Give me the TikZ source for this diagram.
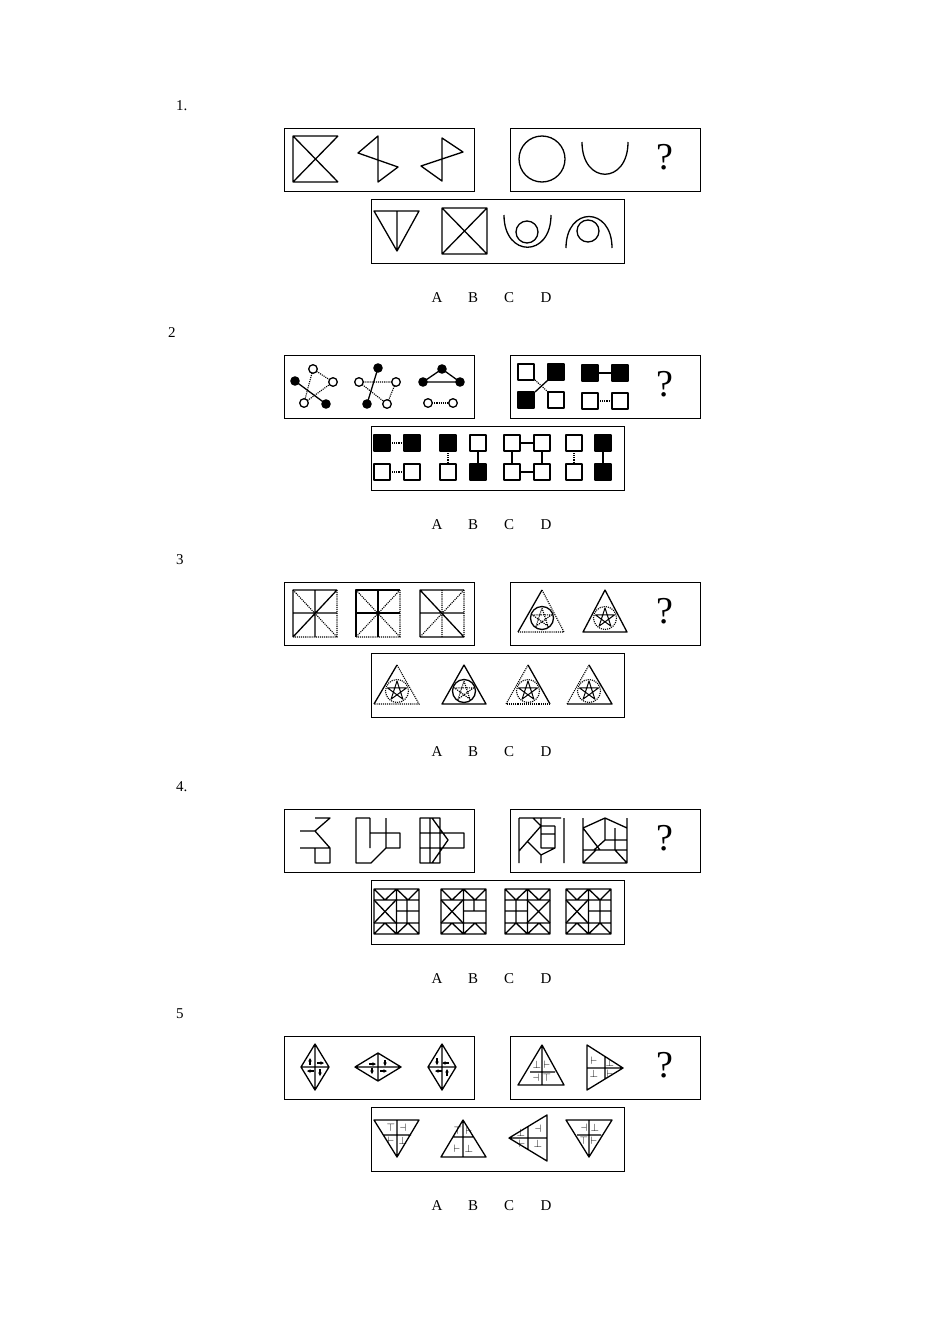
\documentclass[tikz,border=0pt]{standalone}
\usepackage{fontspec}
\setmainfont{Liberation Serif}
\usetikzlibrary{calc,arrows.meta}
\tikzset{fig/.style={line width=1.3pt,line join=round},
 frame/.style={line width=1pt},
 dot/.style={line width=1.1pt,densely dotted},
 lbl/.style={font=\fontsize{15}{18}\selectfont,inner sep=0pt},
 qm/.style={font=\fontsize{38}{40}\selectfont,inner sep=0pt},
 fn/.style={fig,fill=black},
 on/.style={fig,fill=white}}
\newcommand{\myframes}[1]{%
 \draw[frame] (284,128+#1) rectangle (474,191+#1);
 \draw[frame] (510,128+#1) rectangle (700,191+#1);
 \draw[frame] (371,199+#1) rectangle (624,263+#1);
 \node[lbl] (a#1) at (437,298+#1) {A};
 \node[lbl] (b#1) at (473,298+#1) {B};
 \node[lbl] (c#1) at (509,298+#1) {C};
 \node[lbl] (d#1) at (546,298+#1) {D};
 \node[qm] (q#1) at (665,157+#1) {?};}
\newcommand{\mystar}[4]{\draw[#4] ($(#1,#2)+(270:#3)$)--($(#1,#2)+(54:#3)$)--($(#1,#2)+(198:#3)$)--($(#1,#2)+(342:#3)$)--($(#1,#2)+(126:#3)$)--cycle;}
\begin{document}
\begin{tikzpicture}[x=1pt,y=-1pt]
\useasboundingbox[fill=white] (0,0) rectangle (950,1344);
\node[lbl,anchor=west] (p1) at (176,106) {1.};
\node[lbl,anchor=west] (p2) at (168,333) {2};
\node[lbl,anchor=west] (p3) at (176,560) {3};
\node[lbl,anchor=west] (p4) at (176,787) {4.};
\node[lbl,anchor=west] (p5) at (176,1014) {5};
\myframes{0}\myframes{227}\myframes{454}\myframes{681}\myframes{908}
% ---------- 1
\draw[fig] (338,136)--(293,136)--(293,182)--(338,182) (293,136)--(338,182) (338,136)--(293,182);
\draw[fig] (378,136)--(358,153)--(398,167)--(378,182)--cycle;
\draw[fig] (442,138)--(463,152)--(421,166)--(442,181)--cycle;
\draw[fig] (542,159) circle (23);
\draw[fig] (582,142) .. controls (582,185) and (628,185) .. (628,142);
\draw[fig] (374,211)--(419,211)--(397,251)--cycle (397,211)--(397,251);
\draw[fig] (442,208) rectangle (487,254) (442,208)--(487,254) (487,208)--(442,254);
\draw[fig] (504,215) .. controls (504,258) and (551,258) .. (551,215);
\draw[fig] (527,232) circle (11);
\draw[fig] (566,248) .. controls (566,206) and (612,206) .. (612,248);
\draw[fig] (588,231) circle (11);
% ---------- 2
\draw[fig] (295,381)--(326,404) (378,368)--(367,404) (442,369)--(423,382)--(460,382)--cycle;
\draw[dot] (313,369)--(333,382) (313,369)--(304,403) (304,403)--(333,382);
\draw[dot] (359,382)--(396,382) (396,382)--(387,404) (359,382)--(387,404);
\draw[dot] (428,403)--(453,403);
\foreach \p in {(295,381),(326,404),(378,368),(367,404),(442,369),(423,382),(460,382)} \fill \p circle (4.8);
\foreach \p in {(313,369),(333,382),(304,403),(359,382),(396,382),(387,404),(428,403),(453,403)} \draw[on] \p circle (4.3);
\draw[fig] (548,380)--(535,392);
\draw[dot] (535,380)--(548,392);
\draw[on] (518,364) rectangle (534,380); \draw[fn] (548,364) rectangle (564,380);
\draw[fn] (518,392) rectangle (534,408); \draw[on] (548,392) rectangle (564,408);
\draw[fig] (598,373)--(612,373); \draw[dot] (598,401)--(612,401);
\draw[fn] (582,365) rectangle (598,381); \draw[fn] (612,365) rectangle (628,381);
\draw[on] (582,393) rectangle (598,409); \draw[on] (612,393) rectangle (628,409);
% options
\draw[dot] (390,443)--(404,443) (390,472)--(404,472);
\draw[fn] (374,435) rectangle (390,451); \draw[fn] (404,435) rectangle (420,451);
\draw[on] (374,464) rectangle (390,480); \draw[on] (404,464) rectangle (420,480);
\draw[dot] (448,451)--(448,464); \draw[fig] (478,451)--(478,464);
\draw[fn] (440,435) rectangle (456,451); \draw[on] (470,435) rectangle (486,451);
\draw[on] (440,464) rectangle (456,480); \draw[fn] (470,464) rectangle (486,480);
\draw[fig] (520,443)--(534,443) (520,472)--(534,472) (512,451)--(512,464) (542,451)--(542,464);
\draw[on] (504,435) rectangle (520,451); \draw[on] (534,435) rectangle (550,451);
\draw[on] (504,464) rectangle (520,480); \draw[on] (534,464) rectangle (550,480);
\draw[dot] (574,451)--(574,464); \draw[fig] (603,451)--(603,464);
\draw[on] (566,435) rectangle (582,451); \draw[fn] (595,435) rectangle (611,451);
\draw[on] (566,464) rectangle (582,480); \draw[fn] (595,464) rectangle (611,480);
% ---------- 3
\draw[fig] (293,637)--(293,590)--(337,590) (315,590)--(315,637) (293,613)--(337,613) (293,637)--(337,590);
\draw[dot] (337,590)--(337,637)--(293,637) (293,590)--(337,637);
\draw[fig] (356,637)--(356,590)--(400,590) (378,590)--(378,637) (356,613)--(400,613);
\draw[dot] (400,590)--(400,637)--(356,637) (356,590)--(400,637) (400,590)--(356,637);
\draw[fig] (420,637)--(420,590)--(464,590) (420,613)--(464,613) (420,590)--(464,637) (420,637)--(464,637);
\draw[dot] (464,590)--(464,637) (442,590)--(442,637) (464,590)--(420,637);
% right box
\draw[fig] (518,632)--(542,590); \draw[dot] (542,590)--(564,632)--(518,632);
\draw[fig] (542,618) circle (11.5); \mystar{542}{618}{10}{dot}
\draw[fig] (583,632)--(605,590)--(627,632)--cycle;
\draw[dot] (605,618) circle (11.5); \mystar{605}{618}{10}{fig,line width=1pt}
% options
\draw[fig] (374,704)--(397,665); \draw[dot] (397,665)--(419,704)--(374,704);
\draw[dot] (397,691) circle (11.5); \mystar{397}{691}{10}{fig,line width=1pt}
\draw[fig] (442,704)--(464,665)--(486,704)--cycle;
\draw[fig] (464,691) circle (11.5); \mystar{464}{691}{10}{dot}
\draw[dot] (506,704)--(528,665); \draw[fig] (528,665)--(550,704); \draw[dot] (550,704)--(506,704);
\draw[dot] (528,691) circle (11.5); \mystar{528}{691}{10}{fig,line width=1pt}
\draw[dot] (567,704)--(589,665); \draw[fig] (589,665)--(612,704)--(567,704);
\draw[dot] (589,691) circle (11.5); \mystar{589}{691}{10}{fig,line width=1pt}
% ---------- 4
\draw[fig] (315,818)--(330,818)--(315,831)--(300,831) (315,831)--(330,848)--(300,848) (315,848) rectangle (330,863);
\draw[fig] (370,818)--(356,818)--(356,863)--(371,863)--(386,848)--(400,848)--(400,833)--(370,833) (370,818)--(370,848) (386,818)--(386,848);
\draw[fig] (420,818) rectangle (440,863) (430,818)--(430,863) (420,833)--(440,833) (420,848)--(440,848) (432,818)--(448,840)--(432,863) (440,833) rectangle (464,848);
\draw[fig] (519,818)--(519,863) (564,818)--(564,863) (519,818)--(561,818) (533,818)--(541,826)--(555,826) (541,818)--(541,848)--(555,848)--(555,826) (541,834)--(555,834) (519,851)--(541,826) (527,841)--(541,855)--(555,848) (541,855)--(541,863);
\draw[fig] (583,818)--(583,863)--(627,863) (627,818)--(627,863) (583,850)--(627,850) (583,828)--(605,818)--(627,828) (583,828)--(600,850) (594,850)--(605,840)--(627,840) (605,818)--(605,840) (615,828)--(615,850) (583,863)--(596,850) (627,863)--(615,850);
\foreach \x/\k in {374/1,441/2,505/3,566/4}{
 \draw[fig] (\x,889) rectangle ++(45,45) (\x+22.5,889)--(\x+22.5,934)
  (\x,889)--(\x+11,900)--(\x+22.5,889)--(\x+34,900)--(\x+45,889)
  (\x,934)--(\x+11,923)--(\x+22.5,934)--(\x+34,923)--(\x+45,934)
  (\x,900)--(\x+45,900) (\x,923)--(\x+45,923);}
\draw[fig] (374,900)--(396,923) (396,900)--(374,923) (407,900)--(407,923) (396,911)--(419,911);
\draw[fig] (441,900)--(463,923) (463,900)--(441,923) (474,900)--(474,911) (463,911)--(486,911);
\draw[fig] (516,900)--(516,923) (505,911)--(527,911) (527,900)--(550,923) (550,900)--(527,923);
\draw[fig] (566,900)--(588,923) (588,900)--(566,923) (600,900)--(600,923) (588,911)--(611,911);
% ---------- 5
\foreach \cx/\hw/\hh in {315/14/23,378/23/14,442/14/23}{
 \draw[fig] (\cx-\hw,1067)--(\cx,1067-\hh)--(\cx+\hw,1067)--(\cx,1067+\hh)--cycle (\cx-\hw,1067)--(\cx+\hw,1067) (\cx,1067-\hh)--(\cx,1067+\hh);}
\tikzset{sa/.style={line width=1.2pt,-{Stealth[length=3.5pt,width=3.5pt]}}}
\draw[sa] (310,1065)--(310,1058); \draw[sa] (317,1063)--(324,1063); \draw[sa] (314,1071)--(307,1071); \draw[sa] (320,1069)--(320,1076);
\draw[sa] (369,1064)--(376,1064); \draw[sa] (385,1060)--(385,1066); \draw[sa] (372,1068)--(372,1074); \draw[sa] (380,1071)--(387,1071);
\draw[sa] (437,1058)--(437,1065); \draw[sa] (449,1063)--(442,1063); \draw[sa] (442,1071)--(435,1071); \draw[sa] (447,1076)--(447,1069);
\tikzset{tt/.style={inner sep=0pt,font=\fontsize{11}{11}\selectfont}}
\draw[fig] (518,1085)--(542,1045)--(564,1085)--cycle (542,1045)--(542,1085) (530,1072)--(555,1072);
\node[tt] (t1) at (537,1065) {$\bot$}; \node[tt] (t2) at (547,1065) {$\vdash$}; \node[tt] (t3) at (536,1078) {$\dashv$}; \node[tt] (t4) at (547,1078) {$\top$};
\draw[fig] (587,1045)--(623,1068)--(587,1090)--cycle (587,1068)--(623,1068) (605,1056)--(605,1079);
\node[tt] (t5) at (594,1061) {$\vdash$}; \node[tt] (t6) at (610,1063) {$\bot$}; \node[tt] (t7) at (594,1074) {$\bot$}; \node[tt] (t8) at (610,1074) {$\vdash$};
\draw[fig] (374,1120)--(419,1120)--(397,1157)--cycle (397,1120)--(397,1157) (383,1135)--(411,1135);
\node[tt] (t9) at (391,1128) {$\top$}; \node[tt] (t10) at (403,1128) {$\dashv$}; \node[tt] (t11) at (391,1141) {$\vdash$}; \node[tt] (t12) at (403,1141) {$\bot$};
\draw[fig] (441,1157)--(486,1157)--(463,1120)--cycle (463,1120)--(463,1157) (453,1137)--(474,1137);
\node[tt] (t13) at (458,1131) {$\top$}; \node[tt] (t14) at (469,1131) {$\vdash$}; \node[tt] (t15) at (457,1149) {$\vdash$}; \node[tt] (t16) at (469,1149) {$\bot$};
\draw[fig] (509,1138)--(547,1115)--(547,1161)--cycle (509,1138)--(547,1138) (528,1126)--(528,1150);
\node[tt] (t17) at (521,1133) {$\bot$}; \node[tt] (t18) at (538,1129) {$\dashv$}; \node[tt] (t19) at (522,1144) {$\vdash$}; \node[tt] (t20) at (538,1144) {$\bot$};
\draw[fig] (566,1120)--(612,1120)--(589,1157)--cycle (589,1120)--(589,1157) (577,1135)--(601,1135);
\node[tt] (t21) at (584,1128) {$\dashv$}; \node[tt] (t22) at (595,1128) {$\bot$}; \node[tt] (t23) at (584,1141) {$\top$}; \node[tt] (t24) at (594,1141) {$\vdash$};
\end{tikzpicture}
\end{document}
